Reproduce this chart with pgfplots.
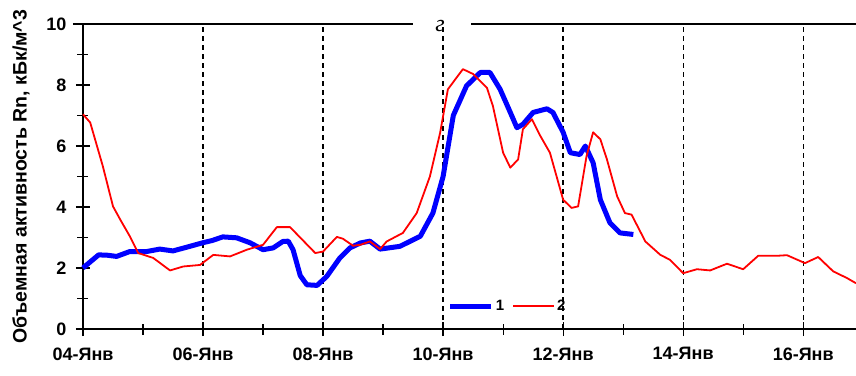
\documentclass[border=0pt]{standalone}
\usepackage{fontspec}
\setmainfont{Liberation Sans}
\newfontfamily\serifit{Liberation Serif}
\usepackage{pgfplots}
\pgfplotsset{compat=1.18}
\begin{document}
\begin{tikzpicture}
\begin{axis}[
  scale only axis,
  width=773pt, height=305pt,
  at={(0,0)}, anchor=south west,
  xmin=0, xmax=12.88, ymin=0, ymax=10,
  axis lines=left,
  axis line style={-, line width=1.4pt, black},
  xtick={0,2,4,6,8,10,12},
  xticklabels={04-Янв,06-Янв,08-Янв,10-Янв,12-Янв,14-Янв,16-Янв},
  minor xtick={1,3,5,7,9,11},
  ytick={0,2,4,6,8,10},
  minor ytick={1,3,5,7,9},
  tick align=center,
  major tick length=14pt,
  minor tick length=11pt,
  every tick/.style={black, line width=1.2pt},
  xmajorgrids,
  grid style={black, line width=1.3pt, dash pattern=on 5pt off 4pt},
  /pgf/number format/assume math mode=true,
  tick label style={font=\bfseries\fontsize{18}{20}\selectfont},
  xticklabel style={yshift=-8pt},
  yticklabel style={xshift=-6pt},
  ylabel={Объемная активность Rn, кБк/м\^{}3},
  ylabel style={font=\bfseries\fontsize{19.5}{22}\selectfont,
    at={(axis description cs:-0.0802,0.5)}, anchor=center},
  legend style={draw=none, fill=none, at={(0.468,0.075)}, anchor=west,
    font=\bfseries\fontsize{15}{17}\selectfont, legend columns=2,
    /tikz/every even column/.append style={column sep=6pt}},
  legend image code/.code={\draw[#1] (0pt,0pt) -- (41pt,0pt);},
  clip=false,
]
\addplot[blue, line width=5pt, line join=round] coordinates {
(0,2.0) (0.12,2.2) (0.26,2.43) (0.4,2.42) (0.56,2.38) (0.78,2.54) (1.06,2.54) (1.28,2.62) (1.5,2.56) (1.78,2.71) (2.0,2.83) (2.15,2.9) (2.33,3.02) (2.56,2.99) (2.78,2.83) (3.0,2.6) (3.17,2.66) (3.33,2.87) (3.42,2.88) (3.5,2.6) (3.62,1.75) (3.73,1.45) (3.9,1.43) (4.06,1.72) (4.28,2.33) (4.45,2.66) (4.62,2.82) (4.78,2.88) (4.95,2.62) (5.28,2.71) (5.62,3.04) (5.83,3.8) (6.0,5.0) (6.17,7.0) (6.39,7.97) (6.62,8.41) (6.78,8.41) (6.95,7.86) (7.12,7.1) (7.23,6.6) (7.33,6.71) (7.5,7.1) (7.73,7.22) (7.83,7.1) (8.0,6.45) (8.12,5.78) (8.28,5.72) (8.37,6.0) (8.5,5.45) (8.62,4.24) (8.78,3.48) (8.95,3.15) (9.17,3.1)
};
\addlegendentry{1}
\addplot[red, line width=1.8pt, line join=round] coordinates {
(0,7.04) (0.12,6.77) (0.33,5.34) (0.5,4.02) (0.62,3.59) (0.78,3.04) (0.92,2.49) (1.17,2.33) (1.45,1.92) (1.67,2.05) (1.95,2.1) (2.17,2.43) (2.45,2.38) (2.73,2.6) (3.0,2.76) (3.23,3.34) (3.45,3.34) (3.87,2.49) (4.0,2.54) (4.23,3.02) (4.33,2.96) (4.5,2.73) (4.62,2.76) (4.78,2.87) (4.95,2.62) (5.06,2.87) (5.33,3.15) (5.56,3.8) (5.78,5.0) (5.95,6.43) (6.08,7.86) (6.33,8.52) (6.5,8.36) (6.73,7.91) (6.83,7.31) (7.0,5.78) (7.12,5.29) (7.25,5.56) (7.33,6.55) (7.48,6.88) (7.62,6.33) (7.78,5.78) (8.0,4.24) (8.14,3.97) (8.25,4.02) (8.39,5.67) (8.5,6.45) (8.62,6.22) (8.73,5.56) (8.9,4.35) (9.03,3.8) (9.14,3.75) (9.37,2.87) (9.62,2.43) (9.78,2.27) (10.0,1.83) (10.23,1.96) (10.45,1.92) (10.73,2.14) (11.0,1.96) (11.25,2.4) (11.56,2.4) (11.73,2.42) (12.03,2.16) (12.25,2.36) (12.5,1.89) (12.73,1.67) (12.88,1.5)
};
\addlegendentry{2}
\draw[black, line width=1.4pt] (axis cs:-0.17,10) -- (axis cs:5.5,10);
\draw[black, line width=1.4pt] (axis cs:6.47,10) -- (axis cs:12.88,10);
\node[font=\serifit\itshape\fontsize{24}{26}\selectfont] at (axis cs:5.95,9.95) {г};
\end{axis}
\pgfresetboundingbox
\useasboundingbox (-83pt,-46pt) rectangle (773pt,329pt);
\end{tikzpicture}
\end{document}
